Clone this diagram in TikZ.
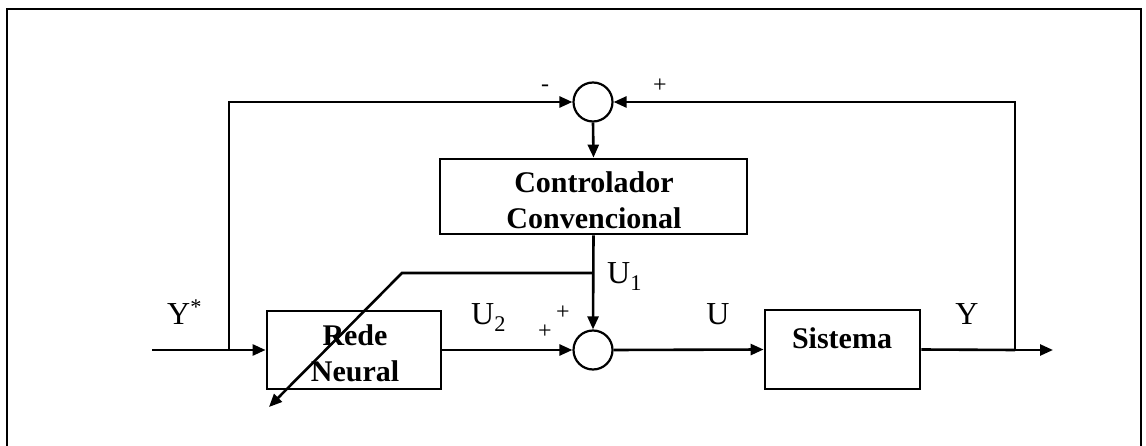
\documentclass[tikz,border=0pt]{standalone}
\usepackage{fontspec}
\setmainfont{Liberation Serif}
\usetikzlibrary{arrows.meta}
\tikzset{
  wire/.style={line width=2.6pt},
  arr/.style={wire,-{Triangle[length=13pt,width=11pt]}},
  blockbox/.style={draw,line width=2.8pt,inner sep=0pt},
  sumnode/.style={draw,circle,line width=2.2pt,minimum size=39pt,inner sep=0pt},
  boxtext/.style={font=\fontsize{30}{36}\selectfont\bfseries,align=center,inner sep=0pt},
  sig/.style={font=\fontsize{32}{36}\selectfont,inner sep=0pt},
  sign/.style={font=\fontsize{24}{26}\selectfont,inner sep=0pt},
}
\begin{document}
\begin{tikzpicture}[x=1pt,y=-1pt]
\useasboundingbox (0,0) rectangle (1146,446);
% frame
\draw[line width=2.8pt] (7,446) -- (7,9) -- (1141,9) -- (1141,446);
% nodes
\node[sumnode] (sumtop) at (593,102) {};
\node[sumnode] (sumbot) at (593,350) {};
\node[blockbox,minimum width=307pt,minimum height=75pt] (ctrl) at (593.5,196.5) {};
\node[boxtext] (ctrltext) at (594,200) {Controlador\\Convencional};
\node[blockbox,minimum width=174pt,minimum height=78pt] (rede) at (354,350) {};
\node[boxtext] (redetext) at (355,353) {Rede\\Neural};
\node[blockbox,minimum width=155pt,minimum height=79pt] (sis) at (842.5,349.5) {};
\node[boxtext] (sistext) at (842,338) {Sistema};
% coordinates
\coordinate (in) at (152,350);
\coordinate (jl) at (229,350);
\coordinate (cl) at (229,102);
\coordinate (jr) at (1015,350);
\coordinate (cr) at (1015,102);
\coordinate (out) at (1053,350);
\coordinate (br) at (593,273);
\coordinate (bl) at (402,273);
\coordinate (tip) at (269,407);
% connectors
\draw[wire] (in) -- (jl);
\draw[arr] (jl) -- (rede.west);
\draw[arr] (jl) -- (cl) -- (sumtop.west);
\draw[arr] (rede.east) -- (sumbot.west);
\draw[arr] (sumbot.east) -- (sis.west);
\draw[wire] (sis.east) -- (jr);
\draw[arr] (jr) -- (out);
\draw[arr] (jr) -- (cr) -- (sumtop.east);
\draw[arr] (sumtop.south) -- (ctrl.north);
\draw[arr] (ctrl.south) -- (sumbot.north);
\draw[arr] (br) -- (bl) -- (tip);
% labels
\node[sig,anchor=base west] (ystar) at (167,324) {Y\textsuperscript{*}};
\node[sig,anchor=base west] (u2) at (471,325) {U\textsubscript{2}};
\node[sig,anchor=base west] (u1) at (607,284) {U\textsubscript{1}};
\node[sig,anchor=base] (ulab) at (718,325) {U};
\node[sig,anchor=base] (ylab) at (967,324) {Y};
\node[sign] (minus) at (545,88) {-};
\node[sign] (plustop) at (660,86) {+};
\node[sign] (plusa) at (563,313) {+};
\node[sign] (plusb) at (545,332) {+};
\end{tikzpicture}
\end{document}
